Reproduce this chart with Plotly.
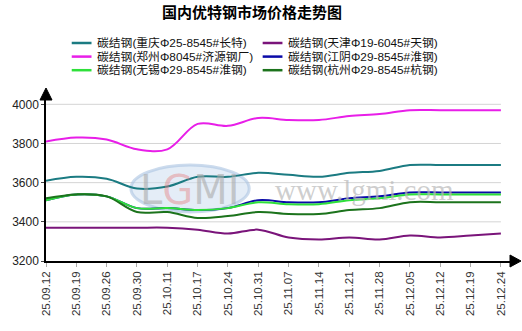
import plotly.graph_objects as go

dates = ["25.09.12", "25.09.19", "25.09.26", "25.09.30", "25.10.11", "25.10.17",
         "25.10.24", "25.10.31", "25.11.07", "25.11.14", "25.11.21", "25.11.28",
         "25.12.05", "25.12.12", "25.12.19", "25.12.24"]

chongqing = [3610, 3630, 3620, 3570, 3580, 3630, 3630, 3650, 3640, 3630, 3650, 3660, 3690, 3690, 3690, 3690]
tianjin = [3370, 3370, 3370, 3370, 3370, 3360, 3340, 3360, 3320, 3310, 3320, 3310, 3330, 3320, 3330, 3340]
zhengzhou = [3810, 3830, 3820, 3770, 3770, 3900, 3890, 3930, 3920, 3920, 3940, 3950, 3970, 3970, 3970, 3970]
jiangyin = [3510, 3540, 3530, 3470, 3470, 3460, 3470, 3510, 3500, 3500, 3520, 3530, 3550, 3550, 3550, 3550]
wuxi = [3510, 3540, 3530, 3470, 3470, 3460, 3470, 3500, 3490, 3490, 3510, 3520, 3540, 3540, 3540, 3540]
hangzhou = [3520, 3540, 3530, 3450, 3450, 3420, 3430, 3450, 3440, 3440, 3460, 3470, 3500, 3500, 3500, 3500]

series = [
    ("碳结钢(重庆Φ25-8545#长特)", chongqing, "#1B7B82"),
    ("碳结钢(天津Φ19-6045#天钢)", tianjin, "#7A147A"),
    ("碳结钢(郑州Φ8045#济源钢厂)", zhengzhou, "#E81EE8"),
    ("碳结钢(江阴Φ29-8545#淮钢)", jiangyin, "#0A0AA8"),
    ("碳结钢(无锡Φ29-8545#淮钢)", wuxi, "#2EE03A"),
    ("碳结钢(杭州Φ29-8545#杭钢)", hangzhou, "#1C731C"),
]

yticks = [3200, 3400, 3600, 3800, 4000]
xidx = list(range(len(dates)))

FONT = "Noto Sans CJK SC, Arial, sans-serif"
LEGFONT = "Liberation Sans, Noto Sans CJK SC, sans-serif"

# plot area in pixels (layout)
W, H = 522, 331
ML, MR, MT, MB = 41, 12, 100, 70
PW, PH = W - ML - MR, H - MT - MB


def px_x(px):
    return (px - ML) / PW


def px_y(py):
    return (H - MB - py) / PH


fig = go.Figure()
for name, vals, col in series:
    fig.add_trace(go.Scatter(x=xidx, y=vals, name=name, mode="lines", showlegend=False,
                             line=dict(color=col, width=2, shape="spline", smoothing=1.0)))

shapes = []
for v in yticks[1:]:
    shapes.append(dict(type="line", xref="x", yref="y", x0=0, x1=len(dates) - 1, y0=v, y1=v,
                       line=dict(color="#d4d4d4", width=1), layer="below"))
# watermark logo ellipse
shapes.append(dict(type="circle", xref="x", yref="y", x0=2.8, x1=6.7, y0=3450, y1=3690,
                   fillcolor="rgba(205,222,240,0.55)", line=dict(color="rgba(170,195,225,0.6)", width=3),
                   layer="below"))
# axis arrows
shapes.append(dict(type="path", xref="paper", yref="paper", xsizemode="pixel", ysizemode="pixel",
                   xanchor=0, yanchor=1, path="M -6 0 L 6 0 L 0 12 Z",
                   fillcolor="black", line=dict(color="black", width=1)))
shapes.append(dict(type="path", xref="paper", yref="paper", xsizemode="pixel", ysizemode="pixel",
                   xanchor=1, yanchor=0, path="M 0 -6 L 0 6 L 11 0 Z",
                   fillcolor="black", line=dict(color="black", width=1)))

annotations = [
    dict(xref="x", yref="y", x=4.76, y=3565, showarrow=False,
         text="L<span style='color:rgba(230,120,120,0.7)'>G</span>MI",
         font=dict(family="DejaVu Sans, Arial", size=40, color="rgba(170,170,170,0.6)")),
    dict(xref="x", yref="y", x=10.5, y=3560, showarrow=False, text="www.lgmi.com",
         font=dict(family="Liberation Serif, DejaVu Serif, serif", size=29, color="rgba(185,185,185,0.7)")),
]

# legend (two columns, row-major), drawn as line samples + one multi-line text per column
col_line_x = [67, 260]
col_text_x = [92, 285]
row_y = [43, 56.6, 70.2]
col_texts = [[], []]
for i, (name, vals, col) in enumerate(series):
    c, r = i % 2, i // 2
    shapes.append(dict(type="line", xref="paper", yref="paper",
                       x0=px_x(col_line_x[c]), x1=px_x(col_line_x[c] + 20),
                       y0=px_y(row_y[r]), y1=px_y(row_y[r]),
                       line=dict(color=col, width=2.5)))
    col_texts[c].append("<span style='font-size:11.8px'>%s</span>" % name)
for c in range(2):
    annotations.append(dict(xref="paper", yref="paper", x=px_x(col_text_x[c]), y=px_y(row_y[1]),
                            xanchor="left", yanchor="middle", align="left", showarrow=False,
                            borderpad=0, text="<br>".join(col_texts[c]),
                            font=dict(family=LEGFONT, size=10.5, color="#111111")))

fig.update_layout(
    width=W, height=H, autosize=False,
    margin=dict(l=ML, r=MR, t=MT, b=MB, pad=0),
    paper_bgcolor="white", plot_bgcolor="white",
    font=dict(family=FONT, size=12, color="#111111"),
    title=dict(text="<b>国内优特钢市场价格走势图</b>", x=0.483, xref="container", xanchor="center",
               y=0.96, yref="container", yanchor="middle",
               font=dict(family=FONT, size=15, color="black")),
    xaxis=dict(range=[0, 15.3], tickmode="array", tickvals=xidx, ticktext=dates, tickangle=-90,
               showgrid=False, zeroline=False, showline=True, linecolor="black", linewidth=1.5,
               ticks="outside", ticklen=4, tickcolor="#aaaaaa",
               tickfont=dict(family="Liberation Sans, Arial", size=11.5, color="#333333")),
    yaxis=dict(range=[3200, 4022], tickmode="array", tickvals=yticks,
               showgrid=False, zeroline=False, showline=True, linecolor="black", linewidth=1.5,
               ticks="outside", ticklen=3, tickcolor="#444444",
               tickfont=dict(family="Liberation Sans, Arial", size=12, color="#222222")),
    shapes=shapes,
    annotations=annotations,
    showlegend=False,
)

fig.write_html("out.html")
